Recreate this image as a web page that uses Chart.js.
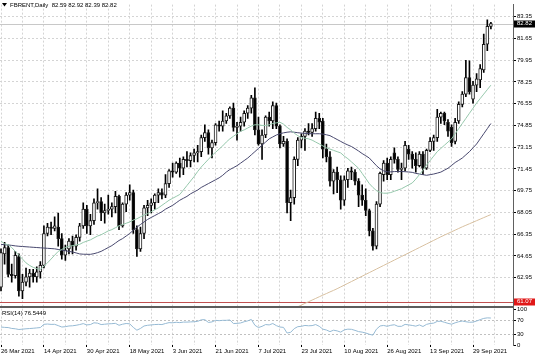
<!DOCTYPE html>
<html>
<head>
<meta charset="utf-8">
<script src="https://cdn.jsdelivr.net/npm/chart.js@4.4.1/dist/chart.umd.min.js"></script>
<style>
html,body{margin:0;padding:0;background:#ffffff;overflow:hidden;}
#box{width:536px;height:357px;position:relative;}
canvas{display:block;}
</style>
</head>
<body>
<div id="box"><canvas id="chart" width="536" height="357"></canvas></div>
<script>
// ================= DATA =================
const symbolTitle = 'FBRENT,Daily';
const lastBarText = '82.59 82.92 82.39 82.82';
const rsiTitle = 'RSI(14) 76.5449';
const bidPrice = 82.82;
const levelPrice = 61.07;

const dateLabels = ['26 Mar 2021','14 Apr 2021','30 Apr 2021','18 May 2021','3 Jun 2021','21 Jun 2021',
  '7 Jul 2021','23 Jul 2021','10 Aug 2021','26 Aug 2021','13 Sep 2021','29 Sep 2021'];
const barsPerDateLabel = 12;

const priceTicks = [62.95,64.65,66.35,68.05,69.75,71.45,73.15,74.85,76.55,78.25,79.95,81.65,83.35];
const rsiTicks = [0,30,70,100];

const opens = [
62.2,64.8,65.3,63.2,63.1,64.6,61.9,62.6,63.0,63.3,
63.0,63.4,63.9,66.4,66.9,66.8,66.9,66.0,64.7,65.2,
65.8,65.4,66.1,67.0,68.3,67.0,67.4,68.8,68.9,68.0,
68.2,68.3,68.5,69.3,67.0,68.7,69.4,69.6,66.7,65.2,
66.4,68.4,68.6,68.8,69.4,69.6,69.4,70.3,71.3,71.2,
71.9,71.5,72.2,72.1,72.5,72.7,72.8,73.9,74.3,73.1,
73.5,74.9,74.8,75.2,75.6,76.2,74.7,74.8,75.1,75.8,
76.2,77.0,74.5,73.4,74.1,75.5,75.2,76.4,74.8,73.4,
73.6,68.8,69.2,72.2,73.7,74.0,74.4,74.3,74.6,75.4,
75.2,73.0,72.4,70.5,71.2,70.6,69.0,70.6,71.3,71.2,
70.5,69.4,69.0,68.2,66.6,65.4,68.7,71.0,71.9,71.0,
72.7,72.2,71.4,71.5,73.0,72.6,72.2,71.7,72.6,71.5,
72.9,73.6,73.9,75.5,75.8,75.1,74.7,73.6,75.2,76.5,
77.3,78.6,76.9,78.0,78.4,79.2,81.2,82.59];
const highs = [
65.2,65.7,65.5,64.0,65.0,64.8,63.2,63.7,63.6,63.6,
63.8,64.2,67.0,67.2,67.3,67.7,68.0,66.4,65.5,66.0,
66.2,66.3,67.2,68.8,68.6,67.9,69.1,69.9,69.2,68.7,
69.4,68.8,69.7,69.4,68.8,69.6,70.2,69.8,67.0,66.9,
68.6,69.0,69.1,69.5,69.9,69.9,71.0,71.4,71.9,72.0,
72.3,72.4,72.8,72.7,73.0,73.3,74.1,74.9,74.5,73.7,
75.0,75.2,76.0,75.8,76.3,76.6,75.1,75.5,76.0,76.4,
77.2,77.8,75.5,74.5,75.6,75.9,76.7,76.6,74.9,74.0,
73.8,69.8,72.4,73.9,74.2,74.6,75.0,75.0,75.9,75.8,
75.4,73.4,72.8,71.4,71.6,70.9,70.9,71.5,71.6,71.4,
70.7,70.2,69.9,68.3,66.8,68.9,71.2,72.1,72.3,72.4,
73.1,72.4,71.9,73.6,73.3,72.8,72.7,72.8,72.8,73.0,
73.9,74.1,76.1,75.9,75.9,75.3,74.9,75.4,76.7,77.5,
79.95,79.9,78.3,78.9,79.6,82.0,83.1,82.92];
const lows = [
61.9,64.0,63.0,62.6,62.9,61.5,61.3,62.3,62.2,62.6,
62.6,62.9,63.7,66.2,66.3,66.6,65.4,64.4,64.3,64.8,
64.8,65.1,65.8,66.8,66.4,66.3,67.1,68.3,67.4,67.2,
67.9,67.7,68.0,66.7,66.9,68.1,69.0,66.4,64.6,65.0,
66.0,67.8,68.0,68.3,68.8,69.1,69.2,70.0,70.8,71.1,
70.8,71.0,71.6,71.6,72.0,72.0,72.4,73.6,72.6,72.3,
73.3,74.4,74.4,75.0,75.4,74.4,73.7,74.4,74.8,75.4,
75.8,74.1,73.3,72.2,73.9,74.8,74.6,74.6,73.1,73.2,
68.0,67.4,68.7,71.7,73.1,72.9,74.1,74.0,74.4,74.6,
72.3,72.0,70.1,69.5,69.6,68.3,68.6,70.0,70.6,70.2,
68.5,68.6,67.8,66.2,65.1,65.2,68.5,70.5,70.6,70.6,
71.9,71.2,70.6,71.3,72.2,71.5,71.2,71.6,71.0,71.4,
72.8,72.9,73.6,75.0,74.9,74.0,73.2,73.4,75.0,76.3,
77.1,77.3,76.6,77.5,77.8,79.0,80.7,82.39];
const closes = [
64.9,65.3,63.2,63.1,64.7,61.9,62.6,63.0,63.3,63.0,
63.4,63.9,66.4,66.9,66.8,67.0,66.0,64.7,65.1,65.8,
65.4,66.1,67.0,68.3,67.0,67.4,68.8,68.9,68.0,68.2,
68.3,68.5,69.3,67.0,68.7,69.4,69.6,66.7,65.2,66.4,
68.4,68.6,68.8,69.4,69.6,69.4,70.3,71.3,71.2,71.9,
71.5,72.2,72.1,72.5,72.7,72.8,73.9,74.3,73.1,73.5,
74.9,74.8,75.2,75.6,76.2,74.7,74.8,75.1,75.8,76.2,
77.0,74.5,73.4,74.1,75.5,75.2,76.4,74.8,73.4,73.6,
68.8,69.2,72.2,73.7,74.0,74.4,74.3,74.6,75.4,75.1,
73.0,72.4,70.5,71.2,70.6,69.0,70.6,71.3,71.2,70.5,
69.4,69.0,68.2,66.6,65.4,68.7,71.1,71.9,71.0,72.2,
72.2,71.4,71.5,73.3,72.6,72.2,71.7,72.6,71.5,72.9,
73.6,73.9,75.5,75.8,75.2,74.4,73.5,75.1,76.5,77.3,
78.6,77.5,78.0,78.5,79.3,81.2,82.6,82.82];

// fast moving average (light green)
const maFast = [
65.8,65.6,65.5,65.3,65.0,64.7,64.4,64.1,63.9,63.75,
63.65,63.6,63.85,64.1,64.4,64.7,65.0,65.15,65.3,65.4,
65.45,65.5,65.55,65.7,65.8,65.9,66.05,66.2,66.3,66.45,
66.6,66.7,66.85,67.0,67.1,67.2,67.3,67.45,67.55,67.7,
67.85,67.95,68.1,68.25,68.4,68.6,68.8,69.0,69.15,69.3,
69.45,69.8,70.15,70.5,70.85,71.25,71.6,71.9,72.2,72.5,
72.75,73.0,73.25,73.55,73.8,74.0,74.2,74.4,74.5,74.65,
74.8,74.9,74.9,74.85,74.85,74.9,75.0,75.05,75.1,74.95,
74.7,74.5,74.25,74.05,73.9,73.85,73.8,73.7,73.55,73.4,
73.25,73.1,73.0,72.9,72.8,72.7,72.45,72.25,72.0,71.75,
71.5,71.1,70.7,70.3,70.0,69.75,69.6,69.55,69.55,69.6,
69.7,69.8,69.9,70.05,70.2,70.35,70.65,71.0,71.35,71.75,
72.1,72.45,72.8,73.05,73.3,73.55,73.8,74.2,74.6,75.0,
75.4,75.8,76.2,76.6,76.95,77.3,77.65,78.0];
// slow moving average (dark navy)
const maSlow = [
65.55,65.52,65.5,65.47,65.43,65.4,65.38,65.36,65.34,65.32,
65.3,65.28,65.26,65.24,65.22,65.2,65.15,65.1,65.05,65.0,
64.95,64.88,64.8,64.78,64.77,64.77,64.82,64.9,65.0,65.15,
65.3,65.45,65.65,65.85,66.0,66.2,66.4,66.65,66.9,67.1,
67.3,67.5,67.65,67.8,67.95,68.1,68.3,68.45,68.6,68.8,
69.0,69.15,69.3,69.5,69.65,69.8,70.0,70.15,70.3,70.45,
70.6,70.75,70.95,71.2,71.4,71.55,71.7,71.9,72.1,72.3,
72.55,72.8,73.05,73.3,73.55,73.8,73.95,74.1,74.2,74.27,
74.32,74.35,74.32,74.28,74.25,74.23,74.21,74.2,74.2,74.2,
74.17,74.12,74.05,73.9,73.75,73.6,73.45,73.32,73.2,73.03,
72.85,72.65,72.48,72.3,72.0,71.7,71.45,71.3,71.22,71.22,
71.24,71.25,71.25,71.23,71.21,71.18,71.1,71.05,71.0,70.95,
71.0,71.05,71.12,71.2,71.35,71.5,71.72,71.95,72.12,72.3,
72.55,72.8,73.1,73.4,73.8,74.2,74.6,75.0];
// long moving average (tan), visible from bar 78 onwards
const maLongStart = 78;
const maLong = [
60.0,60.15,60.3,60.42,60.55,60.67,60.8,60.93,61.06,61.19,
61.32,61.45,61.58,61.7,61.83,61.95,62.08,62.22,62.36,62.5,
62.64,62.78,62.92,63.06,63.2,63.34,63.48,63.62,63.76,63.9,
64.04,64.18,64.32,64.46,64.6,64.74,64.88,65.02,65.16,65.3,
65.44,65.58,65.72,65.86,66.0,66.14,66.27,66.4,66.53,66.66,
66.79,66.92,67.04,67.16,67.28,67.4,67.52,67.64,67.76,67.88];
// RSI(14)
const rsi = [
51,50,49.5,47,46,44,45,46,46.7,47.5,
48.5,49.5,58.7,59.5,58.5,58.7,55,51,52,54,
54.5,56,58,60.7,57,58,63,62,58,59,
60,60.5,61.5,56,59,61,60,50,42,47,
54,56,57,58,58.5,58,61,63.5,63,64.5,
63.5,65,65,65.5,66,67,71.5,72,64,65.5,
70,69,70,70,71,61,61.5,62.5,66,68.5,
72.5,56,49.5,53,58,57,61,55,51,50,
34,36,46.5,52,53,55.5,54.5,55,58,53,
45,42.5,38,42,40,36.5,43,45,44.5,41.5,
38,36.5,34,30.5,28,45,54,55.5,53,56,
57.5,53,53,58.5,57,55.5,53.5,57,52.5,58.5,
61,62,67,67.5,64.5,61.5,59,63,66,68,
66,64.5,65,68,72,75.5,77,76.5];

// ================= RENDER =================
const FONT = '"Liberation Sans", Arial, sans-serif';
const X_MIN = -0.28, X_MAX = 143.18;
const P_MIN = 60.61, P_MAX = 84.30;
const R_MIN = 0, R_MAX = 106.4;

const idx = closes.map((_, i) => i);
const gridTicks = [];
for (let v = 0; v <= 138; v += barsPerDateLabel / 2) gridTicks.push(v);

const wickData = idx.map(i => ({x: i, y: [lows[i], highs[i]]}));
const bodyData = idx.map(i => ({x: i, y: [opens[i], closes[i]]}));
const bodyFill = idx.map(i => closes[i] >= opens[i] ? '#ffffff' : '#000000');
const toXY = (arr, start) => arr.map((v, k) => ({x: start + k, y: v}));

const overlay = {
  id: 'overlay',
  beforeDatasetsDraw(chart) {
    const {ctx, chartArea, scales} = chart;
    const ys = scales.y;
    ctx.save();
    const by = Math.round(ys.getPixelForValue(bidPrice)) + 0.5;
    ctx.strokeStyle = '#c8c8c8';
    ctx.lineWidth = 1;
    ctx.beginPath(); ctx.moveTo(chartArea.left, by); ctx.lineTo(chartArea.right, by); ctx.stroke();
    const ry = Math.round(ys.getPixelForValue(levelPrice)) + 0.5;
    ctx.strokeStyle = '#c05050';
    ctx.beginPath(); ctx.moveTo(chartArea.left, ry); ctx.lineTo(chartArea.right, ry); ctx.stroke();
    ctx.restore();
  },
  afterDraw(chart) {
    const {ctx, chartArea, scales} = chart;
    const ys = scales.y;
    ctx.save();
    // separator between panels
    ctx.fillStyle = '#5c5c5c';
    ctx.fillRect(chartArea.left, ys.bottom - 1.5, chartArea.right - chartArea.left, 2);
    // header
    ctx.fillStyle = '#000';
    ctx.beginPath(); ctx.moveTo(2, 3); ctx.lineTo(7, 3); ctx.lineTo(4.5, 6.5); ctx.closePath(); ctx.fill();
    ctx.font = '6px ' + FONT;
    ctx.textBaseline = 'middle';
    ctx.textAlign = 'left';
    ctx.fillText(symbolTitle + '  ' + lastBarText, 10, 5.5);
    // RSI title
    ctx.fillText(rsiTitle, 2, 313);
    // price labels on axis
    const by = ys.getPixelForValue(bidPrice);
    ctx.fillStyle = '#000';
    ctx.fillRect(514, Math.round(by) - 3.5, 21, 7);
    ctx.fillStyle = '#fff';
    ctx.fillText(bidPrice.toFixed(2), 517, by);
    const ry = ys.getPixelForValue(levelPrice);
    ctx.fillStyle = '#e01818';
    ctx.fillRect(514, Math.round(ry) - 3.5, 21, 7);
    ctx.fillStyle = '#fff';
    ctx.fillText(levelPrice.toFixed(2), 517, ry);
    ctx.restore();
  }
};

new Chart(document.getElementById('chart'), {
  type: 'bar',
  data: {
    datasets: [
      {type: 'line', label: 'MA fast', data: toXY(maFast, 0), borderColor: '#96c8ac', borderWidth: 1, pointRadius: 0, tension: 0, yAxisID: 'y', order: 0},
      {type: 'line', label: 'MA slow', data: toXY(maSlow, 0), borderColor: '#48486e', borderWidth: 1, pointRadius: 0, tension: 0, yAxisID: 'y', order: 0},
      {type: 'line', label: 'MA long', data: toXY(maLong, maLongStart), borderColor: '#d8c0a0', borderWidth: 1, pointRadius: 0, tension: 0, yAxisID: 'y', order: 0},
      {type: 'line', label: 'RSI', data: toXY(rsi, 0), borderColor: '#96bad4', borderWidth: 1, pointRadius: 0, tension: 0, yAxisID: 'rsi', order: 0},
      {label: 'bodies', data: bodyData, backgroundColor: bodyFill, borderColor: '#1a1a1a', borderWidth: 1, borderSkipped: false,
        barThickness: 3, minBarLength: 1, grouped: false, yAxisID: 'y', order: 1},
      {label: 'wicks', data: wickData, backgroundColor: '#000', borderWidth: 0, barThickness: 1, grouped: false, yAxisID: 'y', order: 2}
    ]
  },
  options: {
    responsive: false,
    animation: false,
    devicePixelRatio: 1,
    events: [],
    layout: {padding: 0},
    plugins: {legend: {display: false}, tooltip: {enabled: false}, title: {display: false}},
    scales: {
      x: {
        type: 'linear', position: 'bottom', min: X_MIN, max: X_MAX, offset: false,
        afterBuildTicks(s) { s.ticks = gridTicks.map(v => ({value: v})); },
        afterFit(s) { s.height = 12; s.paddingLeft = 0; s.paddingRight = 0; },
        ticks: {
          autoSkip: false, maxRotation: 0, minRotation: 0, align: 'start', padding: 1,
          font: {family: FONT, size: 6}, color: '#000',
          callback: v => (v % barsPerDateLabel === 0 ? (dateLabels[v / barsPerDateLabel] || '') : '')
        },
        grid: {offset: false, color: '#d4d4d4', lineWidth: 1, tickLength: 2,
          tickColor: c => (c.tick && c.tick.value % barsPerDateLabel === 0 ? '#000' : 'rgba(0,0,0,0)')},
        border: {display: false, dash: [2, 2]}
      },
      y: {
        type: 'linear', position: 'right', stack: 'panels', stackWeight: 307,
        min: P_MIN, max: P_MAX,
        afterBuildTicks(s) { s.ticks = priceTicks.map(v => ({value: v})); },
        afterFit(s) { s.width = 23; },
        ticks: {autoSkip: false, font: {family: FONT, size: 6}, color: '#000', padding: 1, callback: v => Number(v).toFixed(2)},
        grid: {color: '#d4d4d4', lineWidth: 1, tickLength: 3, tickColor: '#000'},
        border: {display: true, color: '#606060', width: 1, dash: [2, 2]}
      },
      rsi: {
        type: 'linear', position: 'right', stack: 'panels', stackWeight: 38,
        min: R_MIN, max: R_MAX,
        afterBuildTicks(s) { s.ticks = rsiTicks.map(v => ({value: v})); },
        afterFit(s) { s.width = 23; },
        ticks: {autoSkip: false, font: {family: FONT, size: 6}, color: '#000', padding: 1, callback: v => String(v)},
        grid: {color: c => (c.tick && (c.tick.value === 30 || c.tick.value === 70) ? '#c0c0c0' : 'rgba(0,0,0,0)'),
          lineWidth: 1, tickLength: 3, tickColor: '#000'},
        border: {display: true, color: '#606060', width: 1, dash: [2, 2]}
      }
    }
  },
  plugins: [overlay]
});
</script>
</body>
</html>
